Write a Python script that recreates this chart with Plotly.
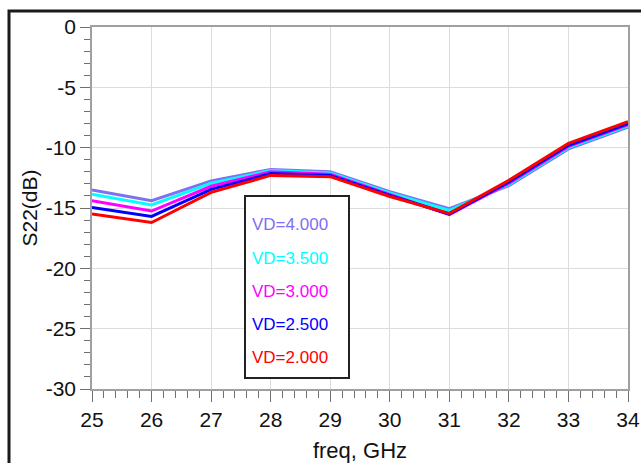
import plotly.graph_objects as go

freq = [25, 26, 27, 28, 29, 30, 31, 32, 33, 34]
vd_labels = ["VD=4.000", "VD=3.500", "VD=3.000", "VD=2.500", "VD=2.000"]
colors = ["#7f6ff2", "#00ffff", "#ff00ff", "#0000ff", "#ff0000"]
s22_vd4p0 = [-13.5, -14.4, -12.75, -11.8, -12.0, -13.65, -15.05, -13.15, -10.1, -8.3]
s22_vd3p5 = [-13.85, -14.75, -12.95, -11.9, -12.1, -13.75, -15.2, -13.05, -10.0, -8.2]
s22_vd3p0 = [-14.4, -15.25, -13.2, -12.0, -12.2, -13.85, -15.55, -12.95, -9.9, -8.1]
s22_vd2p5 = [-14.95, -15.7, -13.45, -12.15, -12.3, -13.95, -15.5, -12.85, -9.8, -8.0]
s22_vd2p0 = [-15.5, -16.2, -13.7, -12.3, -12.4, -14.05, -15.45, -12.7, -9.65, -7.85]
series = [s22_vd4p0, s22_vd3p5, s22_vd3p0, s22_vd2p5, s22_vd2p0]
y_ticks = [0, -5, -10, -15, -20, -25, -30]
y_ticktext = ["0", "-5", "-10", "-15", "-20", "-25", "-30"]

W, H = 641, 463
L, R, T, B = 92, 628, 27, 389

def px(xw):
    return (xw - L) / (R - L)

def py(yw):
    return (B - yw) / (B - T)

fig = go.Figure()
for name, ys, c in zip(vd_labels, series, colors):
    fig.add_trace(go.Scatter(x=freq, y=ys, mode="lines", name=name,
                             line=dict(color=c, width=3), showlegend=False))

font_family = "Liberation Sans, Arial, sans-serif"
axis_common = dict(
    showgrid=True, gridcolor="#dcdcdc", gridwidth=1,
    showline=True, linecolor="#a0a0a0", linewidth=1.5, mirror=True,
    ticks="outside", tickcolor="#707070", tickwidth=1,
    zeroline=False, automargin=False,
    tickfont=dict(family=font_family, size=21, color="#111111"),
)

fig.update_xaxes(
    range=[25, 34], dtick=1, tick0=25, ticklen=11,
    minor=dict(dtick=0.2, ticks="outside", ticklen=7, tickcolor="#707070", showgrid=False),
    title=dict(text="freq, GHz", font=dict(family=font_family, size=22, color="#111111"), standoff=14),
    **axis_common,
)
fig.update_yaxes(
    range=[-30, 0], tickvals=y_ticks, ticktext=y_ticktext, ticklen=10,
    minor=dict(dtick=1, ticks="outside", ticklen=6, tickcolor="#707070", showgrid=False),
    title=dict(text="S22(dB)", font=dict(family=font_family, size=21, color="#111111"), standoff=2),
    **axis_common,
)

shapes = [
    # outer frame
    dict(type="rect", xref="paper", yref="paper",
         x0=px(9), x1=px(680), y0=py(500), y1=py(11),
         line=dict(color="#1a1a1a", width=3), fillcolor="rgba(0,0,0,0)", layer="below"),
    # legend box
    dict(type="rect", xref="paper", yref="paper",
         x0=px(245), x1=px(349), y0=py(378), y1=py(196),
         line=dict(color="#222222", width=2), fillcolor="white", layer="above"),
]
annotations = []
legend_y = [224, 258, 291, 324, 357]
for name, c, yy in zip(vd_labels, colors, legend_y):
    annotations.append(dict(
        x=px(250), y=py(yy), xref="paper", yref="paper", text=name,
        showarrow=False, xanchor="left", yanchor="middle",
        font=dict(family=font_family, size=17, color=c)))

fig.update_layout(
    width=W, height=H,
    margin=dict(l=L, r=W - R, t=T, b=H - B, pad=0),
    paper_bgcolor="white", plot_bgcolor="white",
    shapes=shapes, annotations=annotations,
    font=dict(family=font_family),
)

fig.write_html(
    "out.html",
    config={"displayModeBar": False},
    post_script="document.body.style.margin='0';document.body.style.overflow='hidden';",
)
